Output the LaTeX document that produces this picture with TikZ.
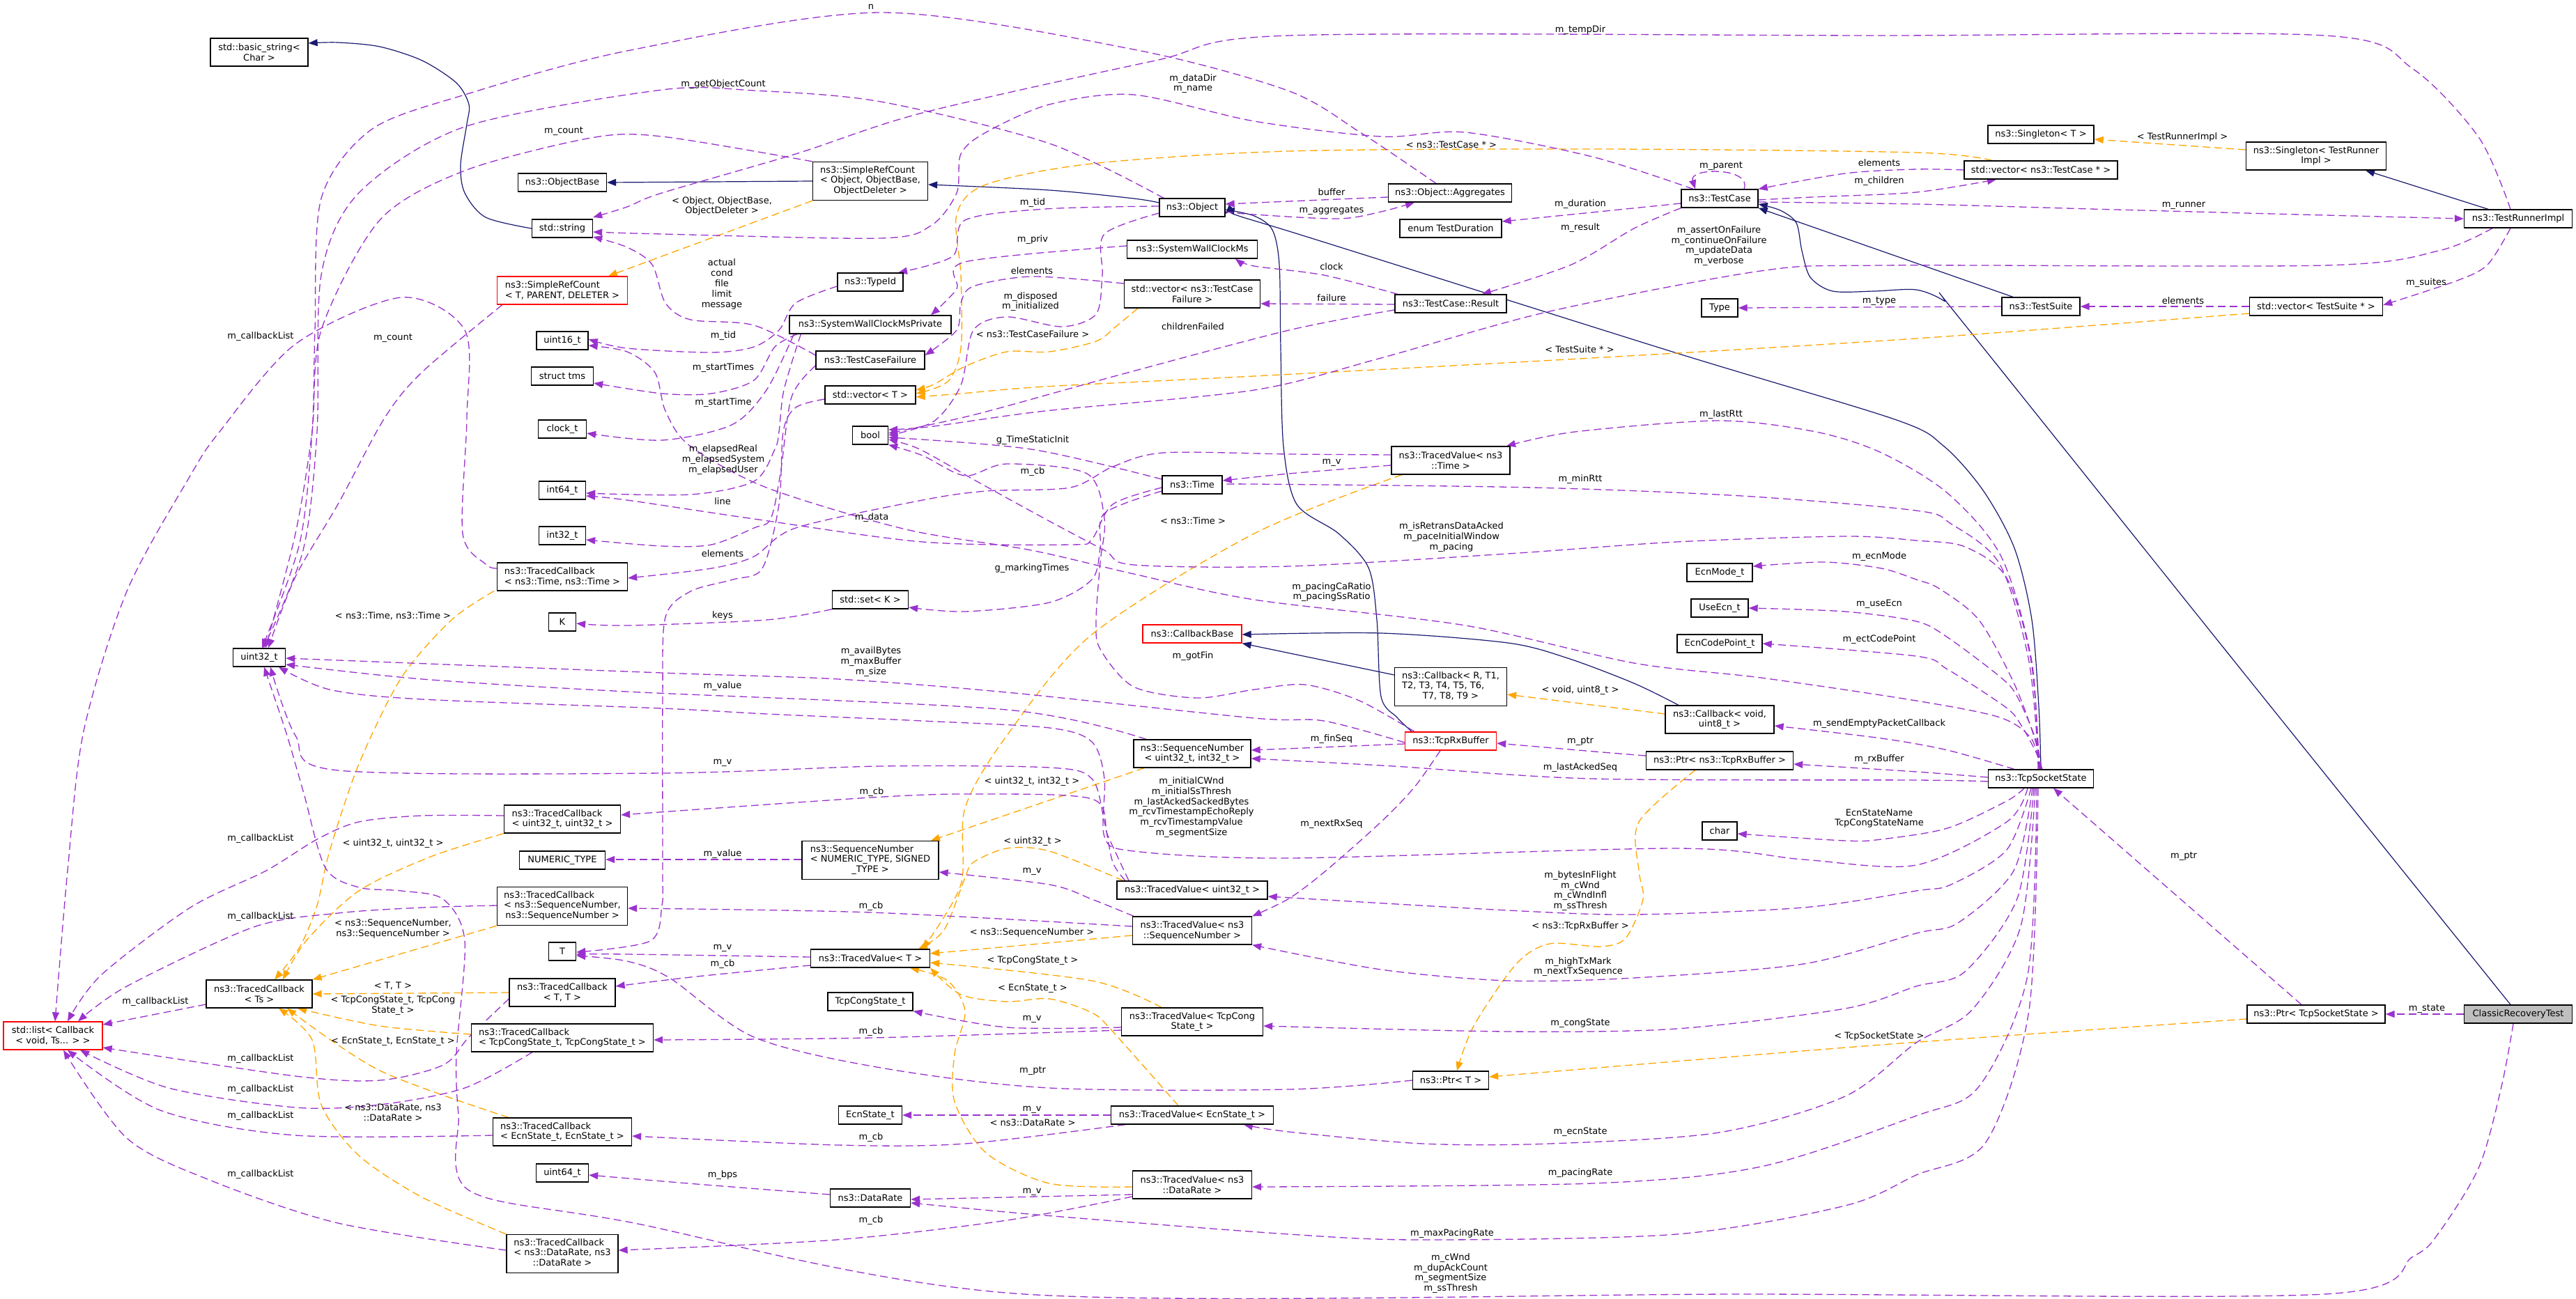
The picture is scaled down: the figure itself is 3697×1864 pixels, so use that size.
\documentclass[tikz,border=0pt]{standalone}
\usepackage{fontspec}
\setmainfont{DejaVu Sans}
\usetikzlibrary{arrows.meta,backgrounds}
\definecolor{purp}{HTML}{9A32CD}
\definecolor{orng}{HTML}{FFA500}
\definecolor{mblue}{HTML}{191970}
\definecolor{greyfill}{HTML}{BFBFBF}
\newcommand{\dfont}{\fontsize{13}{14.8}\selectfont}
\newcommand{\TL}[1]{\begin{tabular}{@{}l@{}}#1\end{tabular}}
\newcommand{\CL}[1]{\multicolumn{1}{@{}c@{}}{#1}}
\tikzset{
 cls/.style={draw=black, line width=1.3pt, fill=white, inner sep=0pt, minimum height=26pt, font=\dfont, align=center},
 inc/.style={cls, draw=red},
 lbl/.style={font=\dfont, inner sep=0pt, align=center},
 memb/.style={draw=purp, line width=1.3pt, dash pattern=on 11pt off 6pt, -{Triangle[length=13pt,width=10pt]}},
 tmpl/.style={draw=orng, line width=1.3pt, dash pattern=on 11pt off 6pt, -{Triangle[length=13pt,width=10pt]}},
 inh/.style={draw=mblue, line width=1.2pt, -{Triangle[length=13pt,width=10pt]}},
}
\begin{document}
\begin{tikzpicture}[x=1pt,y=-1pt]
\useasboundingbox (0,0) rectangle (3697,1864);
% ---------- nodes ----------
\node[cls, minimum width=140pt, minimum height=40pt] (bstr) at (372,75) {std::basic\_string<\\Char >};
\node[cls, minimum width=127pt] (objbase) at (807,262) {ns3::ObjectBase};
\node[cls, minimum width=87pt] (stdstr) at (807,328) {std::string};
\node[inc, align=left, minimum width=187pt, minimum height=40pt] (srcT) at (807,417) {ns3::SimpleRefCount\\< T, PARENT, DELETER >};
\node[cls, minimum width=74pt] (u16) at (807,489) {uint16\_t};
\node[cls, minimum width=89pt] (tms) at (807,540) {struct tms};
\node[cls, minimum width=69pt] (clockt) at (807,616) {clock\_t};
\node[cls, minimum width=67pt] (i64) at (807,704) {int64\_t};
\node[cls, minimum width=67pt] (i32) at (807,769) {int32\_t};
\node[cls, align=left, minimum width=187pt, minimum height=40pt] (tcTime) at (807,828) {ns3::TracedCallback\\< ns3::Time, ns3::Time >};
\node[cls, minimum width=39pt] (K) at (807,893) {K};
\node[cls, minimum width=75pt] (u32) at (372,944) {uint32\_t};
\node[cls, align=left, minimum width=167pt, minimum height=40pt] (tcU32) at (807,1176) {ns3::TracedCallback\\< uint32\_t, uint32\_t >};
\node[cls, minimum width=123pt] (numt) at (807,1235) {NUMERIC\_TYPE};
\node[cls, minimum width=187pt, minimum height=55pt] (tcSeq) at (807,1301) {\TL{ns3::TracedCallback\\< ns3::SequenceNumber,\\\CL{ns3::SequenceNumber >}}};
\node[cls, minimum width=39pt] (T) at (807,1366) {T};
\node[cls, minimum width=152pt, minimum height=40pt] (tcTs) at (372,1427) {ns3::TracedCallback\\< Ts >};
\node[cls, minimum width=152pt, minimum height=40pt] (tcTT) at (807,1425) {ns3::TracedCallback\\< T, T >};
\node[inc, minimum width=142pt, minimum height=40pt] (list) at (76,1487) {std::list< Callback\\< void, Ts... > >};
\node[cls, align=left, minimum width=261pt, minimum height=40pt] (tcCong) at (807,1490) {ns3::TracedCallback\\< TcpCongState\_t, TcpCongState\_t >};
\node[cls, align=left, minimum width=199pt, minimum height=40pt] (tcEcn) at (807,1625) {ns3::TracedCallback\\< EcnState\_t, EcnState\_t >};
\node[cls, minimum width=75pt] (u64) at (807,1684) {uint64\_t};
\node[cls, minimum width=160pt, minimum height=55pt] (tcRate) at (807,1800) {\TL{ns3::TracedCallback\\< ns3::DataRate, ns3\\\CL{::DataRate >}}};
\node[cls, minimum width=165pt, minimum height=55pt] (srcObj) at (1249,260) {\TL{ns3::SimpleRefCount\\< Object, ObjectBase,\\\CL{ObjectDeleter >}}};
\node[cls, minimum width=94pt] (obj) at (1711,298) {ns3::Object};
\node[cls, minimum width=187pt] (swcms) at (1711,358) {ns3::SystemWallClockMs};
\node[cls, minimum width=195pt, minimum height=40pt] (vecTCF) at (1711,422) {std::vector< ns3::TestCase\\Failure >};
\node[cls, minimum width=94pt] (typeid) at (1249,405) {ns3::TypeId};
\node[cls, minimum width=232pt] (swcmsp) at (1249,466) {ns3::SystemWallClockMsPrivate};
\node[cls, minimum width=156pt] (tcf) at (1249,517) {ns3::TestCaseFailure};
\node[cls, minimum width=130pt] (vecT) at (1249,567) {std::vector< T >};
\node[cls, minimum width=51pt] (bool) at (1249,625) {bool};
\node[cls, minimum width=86pt] (time) at (1711,696) {ns3::Time};
\node[cls, minimum width=109pt] (setK) at (1249,861) {std::set< K >};
\node[inc, minimum width=142pt] (cbbase) at (1711,910) {ns3::CallbackBase};
\node[cls, minimum width=168pt, minimum height=40pt] (seqU) at (1711,1082) {ns3::SequenceNumber\\< uint32\_t, int32\_t >};
\node[cls, minimum width=196pt, minimum height=55pt] (seqN) at (1249,1235) {\TL{ns3::SequenceNumber\\< NUMERIC\_TYPE, SIGNED\\\CL{\_TYPE >}}};
\node[cls, minimum width=216pt] (tvU32) at (1711,1278) {ns3::TracedValue< uint32\_t >};
\node[cls, minimum width=171pt, minimum height=40pt] (tvSeq) at (1711,1336) {ns3::TracedValue< ns3\\::SequenceNumber >};
\node[cls, minimum width=171pt] (tvT) at (1249,1376) {ns3::TracedValue< T >};
\node[cls, minimum width=122pt] (congT) at (1249,1438) {TcpCongState\_t};
\node[cls, minimum width=203pt, minimum height=40pt] (tvCong) at (1711,1467) {ns3::TracedValue< TcpCong\\State\_t >};
\node[cls, minimum width=91pt] (ecnT) at (1249,1601) {EcnState\_t};
\node[cls, minimum width=233pt] (tvEcn) at (1711,1601) {ns3::TracedValue< EcnState\_t >};
\node[cls, minimum width=115pt] (rate) at (1249,1720) {ns3::DataRate};
\node[cls, minimum width=171pt, minimum height=40pt] (tvRate) at (1711,1701) {ns3::TracedValue< ns3\\::DataRate >};
\node[cls, minimum width=177pt] (aggr) at (2081,277) {ns3::Object::Aggregates};
\node[cls, minimum width=146pt] (tdur) at (2082,328) {enum TestDuration};
\node[cls, minimum width=160pt] (result) at (2082,436) {ns3::TestCase::Result};
\node[cls, minimum width=110pt] (tcase) at (2468,285) {ns3::TestCase};
\node[cls, minimum width=52pt] (type) at (2468,442) {Type};
\node[cls, minimum width=152pt] (singT) at (2929,193) {ns3::Singleton< T >};
\node[cls, minimum width=220pt] (vecTC) at (2929,244) {std::vector< ns3::TestCase * >};
\node[cls, minimum width=201pt, minimum height=40pt] (singR) at (3324,224) {ns3::Singleton< TestRunner\\Impl >};
\node[cls, minimum width=155pt] (runner) at (3614,314) {ns3::TestRunnerImpl};
\node[cls, minimum width=112pt] (suite) at (2929,440) {ns3::TestSuite};
\node[cls, minimum width=191pt] (vecTS) at (3324,440) {std::vector< TestSuite * >};
\node[cls, minimum width=170pt, minimum height=40pt] (tvTime) at (2082,661) {ns3::TracedValue< ns3\\::Time >};
\node[cls, minimum width=94pt] (ecnMode) at (2468,822) {EcnMode\_t};
\node[cls, minimum width=82pt] (useEcn) at (2468,873) {UseEcn\_t};
\node[cls, minimum width=122pt] (ecp) at (2468,924) {EcnCodePoint\_t};
\node[cls, minimum width=161pt, minimum height=55pt] (cbR) at (2082,986) {\TL{ns3::Callback< R, T1,\\T2, T3, T4, T5, T6,\\\CL{T7, T8, T9 >}}};
\node[cls, minimum width=156pt, minimum height=40pt] (cbV) at (2468,1033) {ns3::Callback< void,\\uint8\_t >};
\node[inc, minimum width=131pt] (rxbuf) at (2082,1064) {ns3::TcpRxBuffer};
\node[cls, minimum width=211pt] (ptrRx) at (2468,1092) {ns3::Ptr< ns3::TcpRxBuffer >};
\node[cls, minimum width=50pt] (char) at (2468,1193) {char};
\node[cls, minimum width=151pt] (tss) at (2929,1118) {ns3::TcpSocketState};
\node[cls, minimum width=109pt] (ptrT) at (2082,1551) {ns3::Ptr< T >};
\node[cls, minimum width=198pt] (ptrTSS) at (3324,1456) {ns3::Ptr< TcpSocketState >};
\node[cls, fill=greyfill, minimum width=155pt] (crt) at (3614,1456) {ClassicRecoveryTest};
% ---------- edges ----------
\begin{pgfonlayer}{background}
\fill[white] (0,0) rectangle (3697,1864);
% inheritance
\draw[inh] plot[smooth] coordinates {(stdstr.west) (697,312) (667,277) (661,237) (670,178) (673,150) (655,119) (606,87) (545,67) (485,61) ([yshift=13pt]bstr.east)};
\draw[inh] (srcObj.west) -- (objbase.east);
\draw[inh] plot[smooth] coordinates {([yshift=7pt]obj.west) (1627,285) (1506,273) ([yshift=-5pt]srcObj.east)};
\draw[inh] plot[smooth] coordinates {([xshift=-56pt]rxbuf.north) (2005,1030) (1982,1000) (1976,890) (1964,815) (1921,766) (1861,724) (1842,641) (1838,500) (1836,380) (1826,330) (1800,310) ([yshift=-3pt]obj.east)};
\draw[inh] plot[smooth] coordinates {(tss.north) (2926,1015) (2916,890) (2891,787) (2846,704) (2789,640) (2719,602) (2400,505) (1850,332) ([yshift=-9pt]obj.east)};
\draw[inh] ([xshift=-40pt]suite.north) -- (tcase.south east);
\draw[inh] plot[smooth] coordinates {([xshift=-11pt]crt.north) (3208,951) (2814,459) (2790,432) (2750,416) (2690,418) (2630,418) (2598,398) (2586,360) (2578,320) (2555,302) ([yshift=-8pt]tcase.east)};
\draw[inh] ([yshift=17pt]cbR.west) -- (cbbase.south east);
\draw[inh] plot[smooth] coordinates {([xshift=-59pt]cbV.north) (2345,981) (2250,945) (2164,923) (1982,909) ([yshift=-1pt]cbbase.east)};
\draw[inh] ([xshift=-43pt]runner.north) -- ([xshift=71pt]singR.south);
% templates
\draw[tmpl] (srcObj.south west) -- ([xshift=66pt]srcT.north);
\draw[tmpl] ([yshift=9pt]singR.west) -- ([yshift=-7pt]singT.east);
\draw[tmpl] plot[smooth] coordinates {([xshift=-78pt]vecTCF.south) (1600,470) (1573,490) (1506,505) (1445,505) (1385,526) (1340,552) ([yshift=7pt]vecT.east)};
\draw[tmpl] plot[smooth] coordinates {([xshift=-70pt]vecTC.north) (2750,219) (2300,214) (1850,217) (1567,235) (1415,265) (1373,308) (1379,395) (1379,500) (1360,548) ([yshift=2pt]vecT.east)};
\draw[tmpl] plot[smooth] coordinates {([yshift=-10pt]vecTS.west) (2750,486) (2267,515) (1800,540) (1500,555) (1380,565) ([yshift=-3pt]vecT.east)};
\draw[tmpl] plot[smooth] coordinates {([xshift=-98pt]tcTime.south) (648,890) (576,973) (515,1097) (473,1222) (455,1300) (430,1360) ([xshift=22pt]tcTs.north)};
\draw[tmpl] plot[smooth] coordinates {(tcU32.south west) (618,1230) (515,1279) (440,1350) ([xshift=34pt]tcTs.north)};
\draw[tmpl] (tcSeq.south west) -- (tcTs.north east);
\draw[tmpl] (tcTT.west) -- (tcTs.east);
\draw[tmpl] plot[smooth] coordinates {([yshift=5pt]tcCong.west) (545,1473) ([xshift=55pt]tcTs.south)};
\draw[tmpl] plot[smooth] coordinates {([xshift=-77pt]tcEcn.north) (545,1537) ([xshift=40pt]tcTs.south)};
\draw[tmpl] plot[smooth] coordinates {(tcRate.north west) (606,1719) (515,1659) (461,1586) (448,1493) ([xshift=28pt]tcTs.south)};
\draw[tmpl] plot[smooth] coordinates {([xshift=-99pt]tvU32.north) (1506,1222) (1445,1218) (1397,1238) (1385,1260) (1355,1335) ([xshift=69pt]tvT.north)};
\draw[tmpl] ([yshift=-7pt]tvSeq.west) -- ([yshift=7pt]tvT.east);
\draw[tmpl] plot[smooth] coordinates {([xshift=-44pt]tvCong.north) (1567,1408) ([yshift=-6pt]tvT.east)};
\draw[tmpl] plot[smooth] coordinates {([xshift=-20pt]tvEcn.north) (1597,1481) (1567,1454) (1506,1434) (1445,1438) (1379,1428) (tvT.south east)};
\draw[tmpl] plot[smooth] coordinates {([yshift=-3pt]tvRate.west) (1506,1699) (1415,1655) (1370,1582) (1370,1513) (1385,1452) (1360,1408) ([xshift=57pt]tvT.south)};
\draw[tmpl] plot[smooth] coordinates {([xshift=-70pt]tvTime.south) (1800,766) (1567,911) (1445,1056) (1385,1160) (1379,1270) ([xshift=75pt]tvT.north)};
\draw[tmpl] ([xshift=-69pt]seqU.south) -- ([xshift=87pt]seqN.north);
\draw[tmpl] plot[smooth] coordinates {([xshift=-35pt]ptrRx.south) (2352,1180) (2352,1250) (2358,1291) (2333,1347) (2297,1359) (2224,1355) (2176,1384) (2115,1473) ([xshift=9pt]ptrT.north)};
\draw[tmpl] plot[smooth] coordinates {([yshift=-7pt]ptrTSS.west) (2700,1500) ([yshift=5pt]ptrT.east)};
\draw[tmpl] ([yshift=8pt]cbV.west) -- ([yshift=-11pt]cbR.east);
% members
\draw[memb] (crt.west) -- (ptrTSS.east);
\draw[memb] plot[smooth] coordinates {([xshift=-7pt]crt.south) (3590,1560) (3558,1675) (3500,1770) (3463,1804) (3336,1858) (2500,1858) (1470,1858) (900,1754) (673,1709) (658,1600) (655,1513) (667,1351) (636,1291) (576,1279) (515,1274) (467,1246) (436,1139) (412,1056) (390,990) ([xshift=7pt]u32.south)};
\draw[memb] plot[smooth] coordinates {([xshift=-19pt]tss.south) (2880,1180) (2750,1242) (2588,1234) (2406,1218) (1850,1232) (1627,1222) (1585,1201) (1585,1118) (1567,1065) (1506,1045) (1324,1035) (1100,1025) (950,1017) (606,1004) (473,990) ([xshift=28pt]u32.south)};
\draw[memb] plot[smooth] coordinates {([xshift=-4pt]tss.north) (2916,950) (2872,799) (2795,708) (2700,650) (2606,620) (2467,604) (2260,620) ([xshift=80pt]tvTime.north)};
\draw[memb] plot[smooth] coordinates {([xshift=-3pt]tss.north) (2912,950) (2870,810) (2800,752) (2750,733) (2500,712) (2200,700) (1800,695) (time.east)};
\draw[memb] plot[smooth] coordinates {([xshift=-2pt]tss.north) (2915,950) (2880,830) (2820,785) (2750,776) (2648,770) (2406,778) (2164,795) (1850,813) (1627,811) (1585,790) (1500,745) (1400,690) (1320,645) ([yshift=-6pt]bool.east)};
\draw[memb] plot[smooth] coordinates {([xshift=-1pt]tss.north) (2915,1060) (2870,1030) (2750,1006) (2527,973) (2345,952) (2103,898) (1800,861) (1627,824) (1480,790) (1300,760) (1100,700) (990,640) (955,590) (940,535) (900,505) ([yshift=-7pt]u16.east)};
\draw[memb] plot[smooth] coordinates {(tss.north) (2920,1060) (2890,980) (2840,890) (2783,845) (2750,832) (2700,816) (2618,807) ([yshift=9pt]ecnMode.east)};
\draw[memb] plot[smooth] coordinates {([xshift=1pt]tss.north) (2921,1060) (2895,1000) (2872,973) (2795,915) (2750,892) (2648,878) (useEcn.east)};
\draw[memb] plot[smooth] coordinates {([xshift=2pt]tss.north) (2922,1080) (2900,1040) (2878,1015) (2795,961) (2750,942) (ecp.east)};
\draw[memb] plot[smooth] coordinates {([xshift=-38pt]tss.north) (2795,1077) (2700,1060) ([yshift=-9pt]cbV.east)};
\draw[memb] plot[smooth] coordinates {([yshift=2pt]tss.west) (2750,1108) ([yshift=-5pt]ptrRx.east)};
\draw[memb] plot[smooth] coordinates {([yshift=-4pt]tss.west) (2750,1120) (2285,1118) (2000,1100) ([yshift=-7pt]seqU.east)};
\draw[memb] plot[smooth] coordinates {([xshift=-24pt]tss.south) (2880,1150) (2795,1189) (2700,1205) (2648,1207) ([yshift=-4pt]char.east)};
\draw[memb] plot[smooth] coordinates {([xshift=-14pt]tss.south) (2880,1220) (2800,1270) (2750,1279) (2588,1303) (2345,1313) (2164,1307) ([yshift=-9pt]tvU32.east)};
\draw[memb] plot[smooth] coordinates {([xshift=-12pt]tss.south) (2890,1250) (2810,1325) (2750,1340) (2588,1384) (2345,1404) (2164,1408) (1982,1392) (tvSeq.south east)};
\draw[memb] plot[smooth] coordinates {([xshift=-10pt]tss.south) (2895,1290) (2820,1395) (2750,1416) (2648,1448) (2406,1477) (2164,1481) ([yshift=-6pt]tvCong.east)};
\draw[memb] plot[smooth] coordinates {([xshift=-8pt]tss.south) (2900,1330) (2830,1450) (2750,1497) (2648,1574) (2467,1626) (2224,1642) (2042,1642) (1850,1625) ([xshift=74pt]tvEcn.south)};
\draw[memb] plot[smooth] coordinates {([xshift=-6pt]tss.south) (2910,1400) (2840,1560) (2750,1602) (2527,1675) (2285,1699) ([yshift=-3pt]tvRate.east)};
\draw[memb] plot[smooth] coordinates {([xshift=-4pt]tss.south) (2912,1450) (2850,1640) (2750,1687) (2648,1731) (2406,1772) (2042,1780) (1850,1772) (1500,1745) ([yshift=-7pt]rate.east)};
\draw[memb] ([xshift=-21pt]ptrTSS.north) -- ([xshift=18pt]tss.south);
\draw[memb] ([xshift=35pt]tcase.north) .. controls (2515,240) and (2423,240) .. ([xshift=-35pt]tcase.north);
\draw[memb] plot[smooth] coordinates {(vecTC.west) (2750,243) (2648,249) (tcase.north east)};
\draw[memb] plot[smooth] coordinates {([yshift=-2pt]tcase.east) (2600,283) (2750,276) ([xshift=-64pt]vecTC.south)};
\draw[memb] plot[smooth] coordinates {([yshift=-5pt]tcase.east) (2750,293) (3000,300) (3300,308) (runner.west)};
\draw[memb] ([yshift=-7pt]tcase.west) -- ([yshift=10pt]tdur.east);
\draw[memb] plot[smooth] coordinates {(tcase.south west) (2345,328) (2255,380) ([xshift=45pt]result.north)};
\draw[memb] plot[smooth] coordinates {([xshift=-38pt]tcase.north) (2285,225) (2103,190) (1982,196) (1800,174) (1627,136) (1506,150) (1415,190) (1379,221) (1373,277) (1336,324) (1264,342) (950,336) ([yshift=-5pt]stdstr.east)};
\draw[memb] plot[smooth] coordinates {([xshift=-11pt]runner.north) (3558,198) (3463,99) (3336,51) (2700,51) (1850,51) (1658,87) (1324,162) (1142,221) (950,277) (900,297) ([yshift=16pt]stdstr.east)};
\draw[memb] plot[smooth] coordinates {([xshift=-37pt]runner.south) (3500,360) (3336,381) (2700,381) (2527,389) (2224,447) (1982,514) (1800,560) (1500,590) (1340,612) ([yshift=8pt]bool.east)};
\draw[memb] plot[smooth] coordinates {([xshift=-11pt]runner.south) (3570,380) (3526,403) ([yshift=2pt]vecTS.east)};
\draw[memb] (vecTS.west) -- (suite.east);
\draw[memb] (suite.west) -- (type.east);
\draw[memb] plot[smooth] coordinates {([xshift=-76pt]result.north) (1900,395) (1800,382) ([xshift=62pt]swcms.south)};
\draw[memb] ([yshift=-1pt]result.west) -- ([yshift=-14pt]vecTCF.east);
\draw[memb] plot[smooth] coordinates {([yshift=-9pt]result.west) (1850,474) (1600,540) (1400,595) ([yshift=3pt]bool.east)};
\draw[memb] plot[smooth] coordinates {([yshift=-6pt]obj.east) (1800,308) (1921,314) (1982,304) ([xshift=-51pt]aggr.south)};
\draw[memb] plot[smooth] coordinates {([yshift=-6pt]aggr.west) (1850,289) ([yshift=5pt]obj.east)};
\draw[memb] plot[smooth] coordinates {([xshift=-20pt]aggr.north) (1952,190) (1848,130) (1627,71) (1264,18) (900,73) (667,136) (533,186) (461,285) (452,474) (448,620) (430,780) ([xshift=4pt]u32.north)};
\draw[memb] plot[smooth] coordinates {([xshift=-41pt]obj.north) (1506,206) (1264,146) (1082,130) (950,129) (667,182) (515,277) (461,395) (455,620) (435,790) ([xshift=6pt]u32.north)};
\draw[memb] plot[smooth] coordinates {(srcObj.north west) (950,196) (848,198) (667,245) (545,316) (461,474) (448,620) (424,766) ([xshift=9pt]u32.north)};
\draw[memb] plot[smooth] coordinates {([xshift=8pt]srcT.south west) (606,534) (552,600) (485,724) (424,828) ([xshift=13pt]u32.north)};
\draw[memb] plot[smooth] coordinates {([yshift=12pt]tcTime.west) (697,810) (664,766) (670,600) (667,474) (576,427) (424,494) (315,620) (273,683) (182,849) (120,1050) (97,1250) ([xshift=3pt]list.north)};
\draw[memb] plot[smooth] coordinates {([yshift=2pt]obj.west) (1500,300) (1385,316) (1367,368) ([xshift=40pt]typeid.north)};
\draw[memb] plot[smooth] coordinates {([yshift=5pt]swcms.west) (1385,376) (1373,415) ([xshift=87pt]swcmsp.north)};
\draw[memb] plot[smooth] coordinates {([yshift=15pt]vecTCF.west) (1482,397) (1397,411) (1379,435) (1373,474) ([yshift=7pt]tcf.east)};
\draw[memb] plot[smooth] coordinates {([yshift=-8pt]obj.west) (1585,336) (1582,395) (1573,451) (1524,469) (1445,455) (1397,474) (1379,553) (1340,605) (bool.east)};
\draw[memb] plot[smooth] coordinates {([yshift=7pt]tcf.west) (1082,467) (991,459) (955,435) (936,380) (900,355) ([yshift=-12pt]stdstr.east)};
\draw[memb] plot[smooth] coordinates {([yshift=-6pt]typeid.west) (1142,435) (1118,474) (1082,498) (1021,506) (900,500) ([yshift=2pt]u16.east)};
\draw[memb] plot[smooth] coordinates {([xshift=12pt]swcmsp.south west) (1112,498) (1082,546) (1021,565) (950,565) ([yshift=-10pt]tms.east)};
\draw[memb] plot[smooth] coordinates {([xshift=7pt]swcmsp.south west) (1100,560) (1050,610) (950,632) ([yshift=-6pt]clockt.east)};
\draw[memb] plot[smooth] coordinates {([xshift=17pt]swcmsp.south west) (1125,560) (1118,620) (1112,645) (1082,691) (991,710) ([yshift=-4pt]i64.east)};
\draw[memb] plot[smooth] coordinates {([yshift=-8pt]tcf.west) (1136,570) (1120,680) (1106,745) (1082,758) (1021,782) (950,784) ([yshift=-6pt]i32.east)};
\draw[memb] plot[smooth] coordinates {([yshift=8pt]time.west) (1480,645) ([yshift=-3pt]bool.east)};
\draw[memb] plot[smooth] coordinates {([yshift=-4pt]time.west) (1597,724) (1567,774) (1536,782) (1324,778) (1082,745) (900,718) ([yshift=-8pt]i64.east)};
\draw[memb] plot[smooth] coordinates {([yshift=-9pt]time.west) (1585,737) (1579,787) (1567,832) (1506,865) (1385,878) ([yshift=-11pt]setK.east)};
\draw[memb] plot[smooth] coordinates {(setK.south west) (1100,890) (900,898) ([yshift=-2pt]K.east)};
\draw[memb] plot[smooth] coordinates {([yshift=-6pt]vecT.west) (1142,585) (1124,620) (1118,724) (1094,816) (1052,832) (991,849) (955,886) (951,1000) (951,1250) (950,1300) (933,1351) ([yshift=-1pt]T.east)};
\draw[memb] plot[smooth] coordinates {([xshift=-52pt]rxbuf.north) (1951,1006) (1873,983) (1800,990) (1718,1002) (1627,986) (1579,932) (1573,890) (1579,807) (1585,745) (1560,680) (1445,666) (1385,683) (1324,654) (bool.south east)};
\draw[memb] plot[smooth] coordinates {([yshift=-2pt]rxbuf.west) (1900,1035) (1800,1031) (1445,994) (1203,975) (950,966) ([yshift=-1pt]u32.east)};
\draw[memb] plot[smooth] coordinates {([xshift=-66pt]seqU.north) (1445,1019) (900,993) (606,975) ([yshift=-10pt]u32.east)};
\draw[memb] plot[smooth] coordinates {([xshift=-96pt]tvU32.north) (1597,1238) (1585,1180) (1567,1118) (1506,1102) (1264,1100) (950,1110) (485,1106) (424,1056) ([xshift=16pt]u32.south)};
\draw[memb] plot[smooth] coordinates {([xshift=-91pt]tvU32.north) (1590,1200) (1567,1147) (1400,1140) (1250,1145) ([yshift=6pt]tcU32.east)};
\draw[memb] ([yshift=1pt]seqN.west) -- ([yshift=1pt]numt.east);
\draw[memb] plot[smooth] coordinates {([xshift=-84pt]tvSeq.north) (1567,1291) (1506,1270) ([yshift=-17pt]seqN.east)};
\draw[memb] plot[smooth] coordinates {([yshift=6pt]tvSeq.west) (1250,1310) ([yshift=-3pt]tcSeq.east)};
\draw[memb] plot[smooth] coordinates {([yshift=2pt]tvT.west) (900,1370) ([yshift=-4pt]T.east)};
\draw[memb] plot[smooth] coordinates {([yshift=-10pt]tvT.west) (1000,1402) ([yshift=9pt]tcTT.east)};
\draw[memb] plot[smooth] coordinates {([yshift=-8pt]tvCong.west) (1445,1475) (congT.south east)};
\draw[memb] plot[smooth] coordinates {([yshift=-12pt]tvCong.west) (1250,1490) ([yshift=-3pt]tcCong.east)};
\draw[memb] (tvEcn.west) -- (ecnT.east);
\draw[memb] plot[smooth] coordinates {([xshift=-96pt]tvEcn.south) (1385,1642) (1203,1644) ([yshift=-6pt]tcEcn.east)};
\draw[memb] ([yshift=-14pt]tvRate.west) -- ([yshift=-2pt]rate.east);
\draw[memb] plot[smooth] coordinates {([yshift=-17pt]tvRate.west) (1445,1752) (1200,1780) ([yshift=5pt]tcRate.east)};
\draw[memb] plot[smooth] coordinates {([yshift=5pt]rate.west) (1000,1700) ([yshift=-3pt]u64.east)};
\draw[memb] plot[smooth] coordinates {(ptrT.west) (1850,1564) (1506,1562) (1264,1533) (1082,1489) (961,1404) (900,1380) ([yshift=-6pt]T.east)};
\draw[memb] plot[smooth] coordinates {([yshift=-9pt]tcTT.west) (673,1489) (636,1529) (545,1551) (424,1545) ([yshift=-17pt]list.east)};
\draw[memb] plot[smooth] coordinates {([xshift=-43pt]tcCong.south) (667,1562) (545,1586) (424,1590) (242,1562) ([xshift=39pt]list.south)};
\draw[memb] plot[smooth] coordinates {([yshift=-5pt]tcEcn.west) (424,1630) (230,1594) ([xshift=21pt]list.south)};
\draw[memb] plot[smooth] coordinates {([yshift=5pt]tcRate.west) (485,1756) (303,1695) (182,1634) ([xshift=15pt]list.south)};
\draw[memb] ([yshift=-15pt]tcTs.west) -- ([yshift=16pt]list.east);
\draw[memb] plot[smooth] coordinates {([yshift=5pt]tcU32.west) (606,1171) (515,1180) (455,1205) (382,1250) (273,1303) (145,1400) ([xshift=21pt]list.north)};
\draw[memb] plot[smooth] coordinates {([yshift=1pt]tcSeq.west) (606,1303) (485,1311) (364,1331) (182,1416) ([xshift=36pt]list.north)};
\draw[memb] ([yshift=-4pt]rxbuf.west) -- ([yshift=5pt]seqU.east);
\draw[memb] plot[smooth] coordinates {([yshift=7pt]ptrRx.west) (2300,1080) ([yshift=-3pt]rxbuf.east)};
\draw[memb] plot[smooth] coordinates {([xshift=-15pt]rxbuf.south) (2030,1130) (1982,1180) (1903,1250) (1850,1290) (tvSeq.north east)};
\draw[memb] plot[smooth] coordinates {([yshift=-7pt]tvTime.west) (1850,680) ([yshift=6pt]time.east)};
\draw[memb] plot[smooth] coordinates {([yshift=8pt]tvTime.west) (1850,652) (1670,650) (1597,670) (1536,700) (1415,705) (1324,718) (1142,758) (1082,799) (1021,816) ([yshift=-2pt]tcTime.east)};
\end{pgfonlayer}
% ---------- labels ----------
\node[lbl] (la1) at (809,188) {m\_count};
\node[lbl] (la2) at (374,483) {m\_callbackList};
\node[lbl] (la3) at (564,485) {m\_count};
\node[lbl] (la4) at (1250,10) {n};
\node[lbl] (la5) at (1038,121) {m\_getObjectCount};
\node[lbl] (la6) at (1712,120) {m\_dataDir\\m\_name};
\node[lbl] (la7) at (1036,296) {< Object, ObjectBase,\\ObjectDeleter >};
\node[lbl] (la8) at (1482,291) {m\_tid};
\node[lbl] (la9) at (1482,344) {m\_priv};
\node[lbl] (la10) at (1036,408) {actual\\cond\\file\\limit\\message};
\node[lbl] (la11) at (1481,389) {elements};
\node[lbl] (la12) at (1479,433) {m\_disposed\\m\_initialized};
\node[lbl] (la13) at (1712,469) {childrenFailed};
\node[lbl] (la14) at (1038,482) {m\_tid};
\node[lbl] (la15) at (1482,480) {< ns3::TestCaseFailure >};
\node[lbl] (la16) at (1038,528) {m\_startTimes};
\node[lbl] (la17) at (1038,578) {m\_startTime};
\node[lbl] (la18) at (2268,43) {m\_tempDir};
\node[lbl] (la19) at (2083,208) {< ns3::TestCase * >};
\node[lbl] (la20) at (2470,238) {m\_parent};
\node[lbl] (la21) at (2697,234) {elements};
\node[lbl] (la22) at (2697,260) {m\_children};
\node[lbl] (la23) at (1911,276) {buffer};
\node[lbl] (la24) at (2268,293) {m\_duration};
\node[lbl] (la25) at (1911,302) {m\_aggregates};
\node[lbl] (la26) at (2268,327) {m\_result};
\node[lbl] (la27) at (2467,353) {m\_assertOnFailure\\m\_continueOnFailure\\m\_updateData\\m\_verbose};
\node[lbl] (la28) at (1911,383) {clock};
\node[lbl] (la29) at (1911,428) {failure};
\node[lbl] (la30) at (2697,432) {m\_type};
\node[lbl] (la31) at (2267,502) {< TestSuite * >};
\node[lbl] (la32) at (2470,595) {m\_lastRtt};
\node[lbl] (la33) at (3132,197) {< TestRunnerImpl >};
\node[lbl] (la34) at (3134,295) {m\_runner};
\node[lbl] (la35) at (3482,406) {m\_suites};
\node[lbl] (la36) at (3133,432) {elements};
\node[lbl] (la37) at (564,884) {< ns3::Time, ns3::Time >};
\node[lbl] (la38) at (374,1204) {m\_callbackList};
\node[lbl] (la39) at (564,1211) {< uint32\_t, uint32\_t >};
\node[lbl] (la40) at (1482,632) {g\_TimeStaticInit};
\node[lbl] (la41) at (1038,660) {m\_elapsedReal\\m\_elapsedSystem\\m\_elapsedUser};
\node[lbl] (la42) at (1482,677) {m\_cb};
\node[lbl] (la43) at (1037,720) {line};
\node[lbl] (la44) at (1251,743) {m\_data};
\node[lbl] (la45) at (1712,748) {< ns3::Time >};
\node[lbl] (la46) at (1037,795) {elements};
\node[lbl] (la47) at (1481,816) {g\_markingTimes};
\node[lbl] (la48) at (1037,884) {keys};
\node[lbl] (la49) at (1712,942) {m\_gotFin};
\node[lbl] (la50) at (1250,950) {m\_availBytes\\m\_maxBuffer\\m\_size};
\node[lbl] (la51) at (1037,985) {m\_value};
\node[lbl] (la52) at (1037,1095) {m\_v};
\node[lbl] (la53) at (1481,1122) {< uint32\_t, int32\_t >};
\node[lbl] (la54) at (1710,1159) {m\_initialCWnd\\m\_initialSsThresh\\m\_lastAckedSackedBytes\\m\_rcvTimestampEchoReply\\m\_rcvTimestampValue\\m\_segmentSize};
\node[lbl] (la55) at (1251,1137) {m\_cb};
\node[lbl] (la56) at (1482,1208) {< uint32\_t >};
\node[lbl] (la57) at (1037,1226) {m\_value};
\node[lbl] (la58) at (1911,664) {m\_v};
\node[lbl] (la59) at (2268,688) {m\_minRtt};
\node[lbl] (la60) at (2083,771) {m\_isRetransDataAcked\\m\_paceInitialWindow\\m\_pacing};
\node[lbl] (la61) at (2697,799) {m\_ecnMode};
\node[lbl] (la62) at (1911,850) {m\_pacingCaRatio\\m\_pacingSsRatio};
\node[lbl] (la63) at (2697,867) {m\_useEcn};
\node[lbl] (la64) at (2697,918) {m\_ectCodePoint};
\node[lbl] (la65) at (2268,991) {< void, uint8\_t >};
\node[lbl] (la66) at (2697,1039) {m\_sendEmptyPacketCallback};
\node[lbl] (la67) at (1911,1061) {m\_finSeq};
\node[lbl] (la68) at (2268,1064) {m\_ptr};
\node[lbl] (la69) at (2697,1090) {m\_rxBuffer};
\node[lbl] (la70) at (2268,1102) {m\_lastAckedSeq};
\node[lbl] (la71) at (2697,1175) {EcnStateName\\TcpCongStateName};
\node[lbl] (la72) at (1911,1183) {m\_nextRxSeq};
\node[lbl] (la73) at (3134,1229) {m\_ptr};
\node[lbl] (la74) at (374,1316) {m\_callbackList};
\node[lbl] (la75) at (564,1333) {< ns3::SequenceNumber,\\ns3::SequenceNumber >};
\node[lbl] (la76) at (223,1438) {m\_callbackList};
\node[lbl] (la77) at (564,1415) {< T, T >};
\node[lbl] (la78) at (564,1444) {< TcpCongState\_t, TcpCong\\State\_t >};
\node[lbl] (la79) at (564,1495) {< EcnState\_t, EcnState\_t >};
\node[lbl] (la80) at (374,1520) {m\_callbackList};
\node[lbl] (la81) at (374,1564) {m\_callbackList};
\node[lbl] (la82) at (564,1597) {< ns3::DataRate, ns3\\::DataRate >};
\node[lbl] (la83) at (374,1602) {m\_callbackList};
\node[lbl] (la84) at (374,1686) {m\_callbackList};
\node[lbl] (la85) at (1481,1251) {m\_v};
\node[lbl] (la86) at (1250,1301) {m\_cb};
\node[lbl] (la87) at (1481,1339) {< ns3::SequenceNumber >};
\node[lbl] (la88) at (1037,1361) {m\_v};
\node[lbl] (la89) at (1037,1384) {m\_cb};
\node[lbl] (la90) at (1482,1379) {< TcpCongState\_t >};
\node[lbl] (la91) at (1482,1419) {< EcnState\_t >};
\node[lbl] (la92) at (1481,1463) {m\_v};
\node[lbl] (la93) at (1250,1481) {m\_cb};
\node[lbl] (la94) at (1482,1537) {m\_ptr};
\node[lbl] (la95) at (1481,1593) {m\_v};
\node[lbl] (la96) at (1482,1612) {< ns3::DataRate >};
\node[lbl] (la97) at (1250,1633) {m\_cb};
\node[lbl] (la98) at (1037,1687) {m\_bps};
\node[lbl] (la99) at (1481,1711) {m\_v};
\node[lbl] (la100) at (1250,1752) {m\_cb};
\node[lbl] (la101) at (2268,1279) {m\_bytesInFlight\\m\_cWnd\\m\_cWndInfl\\m\_ssThresh};
\node[lbl] (la102) at (2268,1330) {< ns3::TcpRxBuffer >};
\node[lbl] (la103) at (2265,1388) {m\_highTxMark\\m\_nextTxSequence};
\node[lbl] (la104) at (2268,1469) {m\_congState};
\node[lbl] (la105) at (2697,1488) {< TcpSocketState >};
\node[lbl] (la106) at (2268,1625) {m\_ecnState};
\node[lbl] (la107) at (2268,1684) {m\_pacingRate};
\node[lbl] (la108) at (2084,1771) {m\_maxPacingRate};
\node[lbl] (la109) at (2082,1828) {m\_cWnd\\m\_dupAckCount\\m\_segmentSize\\m\_ssThresh};
\node[lbl] (la110) at (3483,1448) {m\_state};
\end{tikzpicture}
\end{document}
